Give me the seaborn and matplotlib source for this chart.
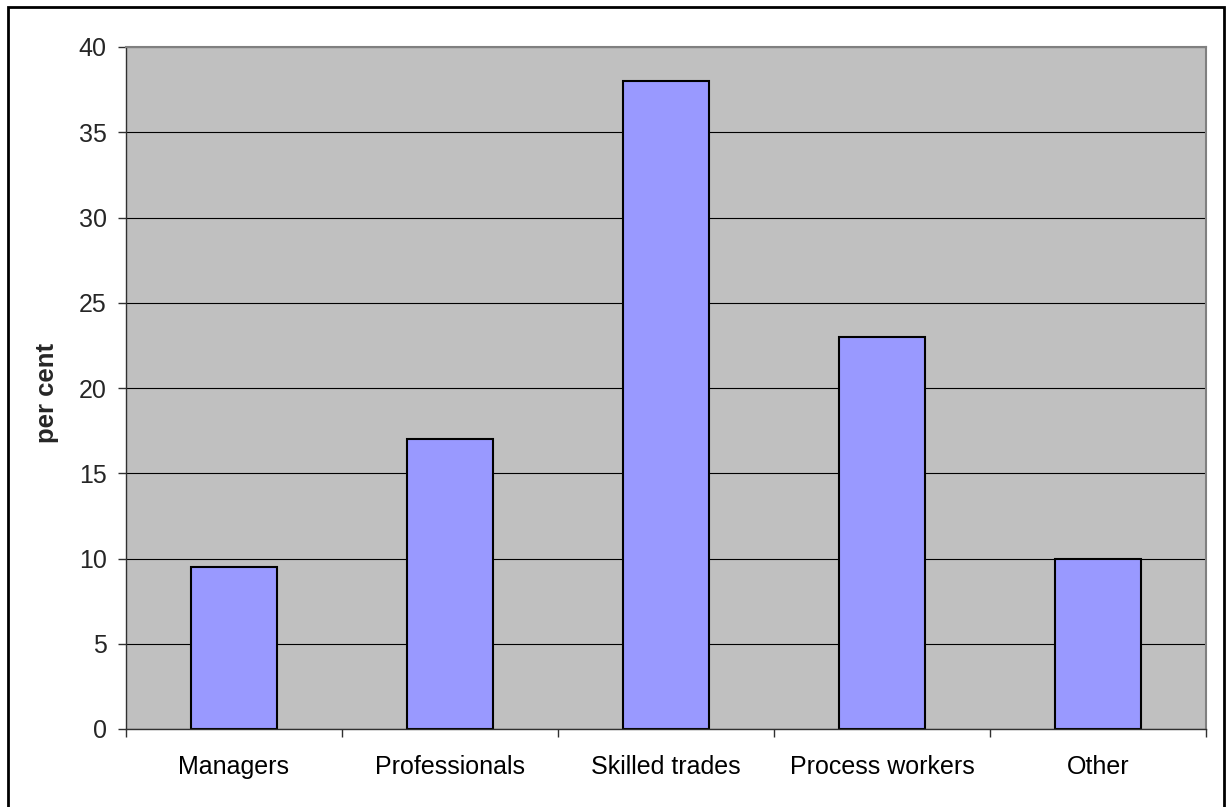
import matplotlib
matplotlib.use("Agg")
import matplotlib.pyplot as plt
from matplotlib.patches import Rectangle
import seaborn as sns
import pandas as pd

# Occupation shares (per cent)
occupations = ["Managers", "Professionals", "Skilled trades", "Process workers", "Other"]
shares = [9.5, 17.0, 38.0, 23.0, 10.0]
y_ticks = [0, 5, 10, 15, 20, 25, 30, 35, 40]

sns.set_style("white")
plt.rcParams["font.family"] = ["Liberation Sans", "DejaVu Sans"]

df = pd.DataFrame({"occupation": occupations, "share": shares})

W, H = 1228, 807
fig = plt.figure(figsize=(W / 100, H / 100), dpi=100)
ax = fig.add_axes([126 / W, (H - 729) / H, (1206 - 126) / W, (729 - 47) / H])
ax.set_facecolor("#C0C0C0")

ax.yaxis.grid(True, color="black", linewidth=0.8)
ax.set_axisbelow(True)

sns.barplot(data=df, x="occupation", y="share", order=occupations,
            color="#9999FF", saturation=1, width=0.4,
            edgecolor="black", linewidth=1.5, ax=ax)

ax.set_ylim(0, 40)
ax.set_xlim(-0.5, len(occupations) - 0.5)
ax.set_yticks(y_ticks)
ax.set_yticklabels([str(v) for v in y_ticks])

# category boundaries carry the tick marks; labels sit centred beneath bars
ax.set_xticks([i - 0.5 for i in range(len(occupations) + 1)], minor=True)
ax.tick_params(axis="x", which="major", length=0, pad=19, labelsize=18, colors="black")
ax.tick_params(axis="x", which="minor", length=6, width=1, color="#303030", direction="out", bottom=True)
ax.tick_params(axis="y", which="major", length=6, width=1, color="#303030", direction="out",
               left=True, pad=8, labelsize=18)

ax.set_xlabel("")
ax.set_ylabel("per cent", fontsize=18.5, fontweight="bold")
ax.yaxis.set_label_coords(-0.062, 0.493)

for side in ("left", "bottom"):
    ax.spines[side].set_color("#303030")
    ax.spines[side].set_linewidth(1)
for side in ("top", "right"):
    ax.spines[side].set_color("#808080")
    ax.spines[side].set_linewidth(1.5)

# outer chart frame (open at the bottom edge of the image)
fig.patches.append(Rectangle((8 / W, -0.05), (1224 - 8) / W, (H - 7) / H + 0.05,
                             transform=fig.transFigure, fill=False,
                             edgecolor="black", linewidth=2, zorder=10))

fig.savefig("out.png", dpi=100, facecolor="white")
